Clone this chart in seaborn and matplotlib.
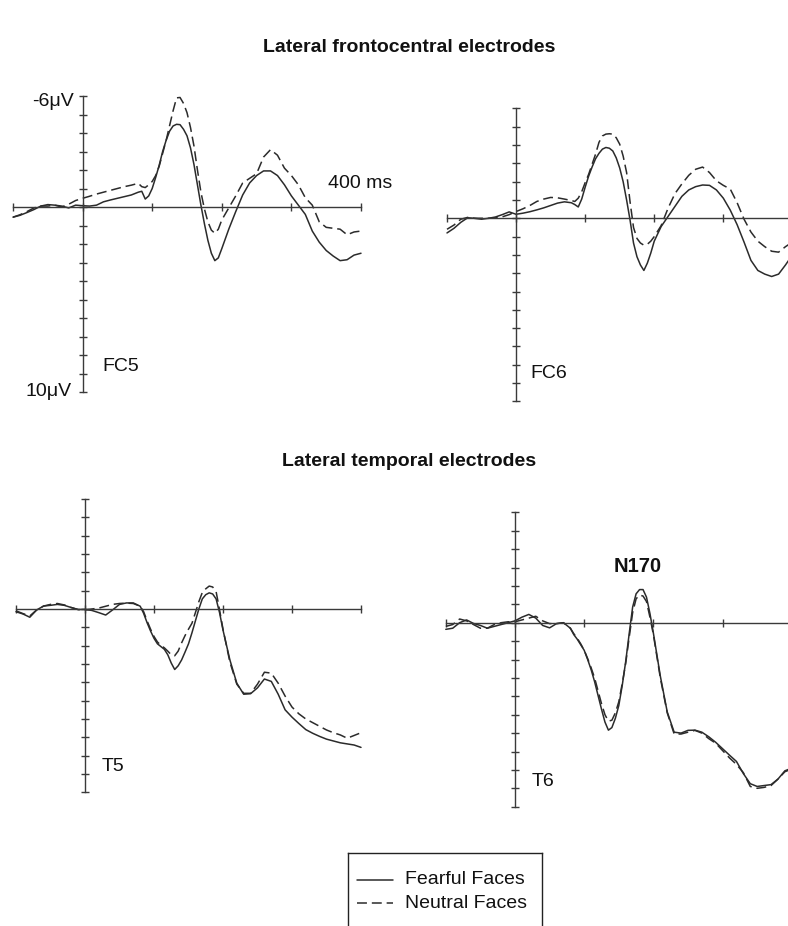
import numpy as np
import pandas as pd
import matplotlib
matplotlib.use("Agg")
import matplotlib.pyplot as plt
import seaborn as sns

# ---------------- data (µV; positive plotted downward) ----------------
# sample times (ms): 10 ms steps, 5 ms steps around the fast components
time_ms = list(range(-100, 81, 10)) + list(range(85, 201, 5)) + list(range(210, 401, 10))
conditions = ["Fearful Faces", "Neutral Faces"]

fc5_fearful = [0.55, 0.45, 0.3, 0.14, -0.05, -0.13, -0.1, -0.05, 0.05, -0.1,
               -0.07, -0.05, -0.1, -0.28, -0.38, -0.47, -0.56, -0.65, -0.8,
               -0.85, -0.43, -0.6, -1.0, -1.6, -2.25, -3.0, -3.6, -4.1, -4.38,
               -4.47, -4.45, -4.2, -3.85, -3.2, -2.3, -1.2, -0.1, 0.9, 1.8,
               2.5, 2.9, 2.75, 2.25,
               1.2, 0.25, -0.65, -1.3, -1.7, -1.95, -1.95, -1.7, -1.2, -0.6,
               -0.1, 0.4, 1.3, 1.9, 2.35, 2.65, 2.9, 2.85, 2.6, 2.5]
fc5_neutral = [0.55, 0.42, 0.25, 0.05, -0.05, -0.05, -0.1, 0.0, -0.15, -0.35,
               -0.47, -0.58, -0.7, -0.8, -0.9, -1.0, -1.1, -1.18, -1.28,
               -1.1, -1.05, -1.2, -1.38, -1.7, -2.2, -2.9, -3.6, -4.4, -5.2,
               -5.9, -5.92, -5.6, -5.1, -4.3, -3.3, -2.0, -0.8, 0.1, 0.8,
               1.25, 1.42, 1.2, 0.7,
               0.05, -0.6, -1.3, -1.55, -1.8, -2.7, -3.1, -2.8, -2.1, -1.7,
               -1.2, -0.5, -0.1, 0.8, 1.1, 1.15, 1.2, 1.5, 1.35, 1.3]

fc6_fearful = [0.8, 0.55, 0.22, -0.03, 0.0, 0.05, 0.0, -0.07, -0.2, -0.35,
               -0.22, -0.28, -0.36, -0.46, -0.57, -0.7, -0.83, -0.9, -0.85,
               -0.75, -0.62, -1.05, -1.7, -2.3, -2.8, -3.25, -3.55, -3.78, -3.87,
               -3.83, -3.68, -3.3, -2.75, -2.0, -1.0, 0.1, 1.35, 2.1, 2.55,
               2.85, 2.45, 1.9, 1.25,
               0.45, -0.1, -0.65, -1.2, -1.55, -1.73, -1.82, -1.8, -1.55, -1.1,
               -0.45, 0.35, 1.3, 2.3, 2.85, 3.05, 3.18, 3.05, 2.55, 2.0]
fc6_neutral = [0.6, 0.37, 0.05, -0.05, 0.0, 0.0, 0.0, -0.02, -0.08, -0.2,
               -0.37, -0.52, -0.7, -0.92, -1.05, -1.14, -1.12, -1.05, -0.97,
               -0.92, -1.1, -1.45, -1.95, -2.4, -2.95, -3.5, -4.15, -4.5, -4.6,
               -4.62, -4.6, -4.4, -4.05, -3.4, -2.5, -0.9, 0.5, 1.1, 1.35,
               1.47, 1.42, 1.25, 1.0,
               0.4, -0.55, -1.35, -1.88, -2.35, -2.68, -2.8, -2.5, -2.05, -1.8,
               -1.6, -0.85, 0.05, 0.75, 1.25, 1.55, 1.8, 1.85, 1.55, 1.3]

t5_fearful = [0.15, 0.27, 0.45, 0.05, -0.16, -0.2, -0.25, -0.2, -0.08, 0.03,
              0.02, 0.08, 0.2, 0.33, 0.05, -0.25, -0.33, -0.33, -0.15,
              0.24, 0.75, 1.2, 1.6, 1.9, 2.05, 2.2, 2.5, 2.95, 3.3,
              3.1, 2.78, 2.35, 1.9, 1.3, 0.65, 0.0, -0.55, -0.78, -0.88,
              -0.82, -0.55, 0.2, 1.15,
              2.78, 4.05, 4.65, 4.62, 4.3, 3.82, 3.95, 4.65, 5.5, 5.9,
              6.25, 6.58, 6.78, 6.95, 7.1, 7.2, 7.3, 7.36, 7.42, 7.55]
t5_neutral = [0.1, 0.25, 0.38, 0.05, -0.16, -0.25, -0.3, -0.22, -0.08, 0.03,
              0.05, 0.0, -0.05, -0.15, -0.25, -0.3, -0.32, -0.3, -0.15,
              0.15, 0.65, 1.1, 1.5, 1.8, 1.98, 2.12, 2.3, 2.5, 2.55,
              2.3, 1.85, 1.45, 1.1, 0.78, 0.2, -0.4, -0.9, -1.1, -1.25,
              -1.2, -0.95, 0.05, 1.1,
              2.9, 4.1, 4.6, 4.6, 4.1, 3.45, 3.5, 4.05, 4.75, 5.35,
              5.72, 6.0, 6.2, 6.4, 6.6, 6.75, 6.87, 7.05, 6.9, 6.75]

t6_fearful = [0.36, 0.3, 0.0, -0.15, 0.04, 0.15, 0.3, 0.2, 0.1, 0.0,
              -0.1, -0.3, -0.45, -0.25, 0.15, 0.28, 0.05, 0.0, 0.3,
              0.65, 0.9, 1.2, 1.5, 2.0, 2.55, 3.2, 3.95, 4.7, 5.4,
              5.84, 5.7, 5.2, 4.5, 3.4, 2.1, 0.6, -0.85, -1.57, -1.8,
              -1.8, -1.39, -0.5, 0.57,
              2.9, 4.85, 5.95, 6.0, 5.85, 5.84, 5.95, 6.2, 6.5, 6.85,
              7.2, 7.54, 8.2, 8.75, 8.9, 8.85, 8.8, 8.5, 8.05, 7.9]
t6_neutral = [0.2, 0.1, -0.2, -0.1, 0.1, 0.3, 0.3, 0.1, 0.0, -0.05,
              -0.05, -0.15, -0.25, -0.35, -0.1, 0.05, 0.05, 0.0, 0.3,
              0.6, 0.85, 1.15, 1.5, 1.95, 2.45, 3.0, 3.7, 4.4, 5.0,
              5.35, 5.3, 4.9, 4.3, 3.3, 2.2, 0.8, -0.55, -1.3, -1.5,
              -1.45, -1.15, -0.3, 0.65,
              3.0, 4.9, 6.05, 6.05, 5.95, 5.85, 6.0, 6.3, 6.55, 6.95,
              7.35, 7.7, 8.15, 8.9, 9.0, 8.95, 8.85, 8.5, 8.1, 7.95]

x_ticks = [-100, 0, 100, 200, 300, 400]
y_ticks = list(range(-6, 11))

# ---------------- style ----------------
sns.set_style("white")
plt.rcParams["font.family"] = ["Liberation Sans", "DejaVu Sans"]

W, H = 788, 926
fig = plt.figure(figsize=(W / 100, H / 100), dpi=100)

INK = "#2b2b2b"
AX = "#3a3a3a"


def rect(l, r, top, bot):
    return [l / W, 1 - bot / H, (r - l) / W, (bot - top) / H]


def panel(r, fearful, neutral):
    ax = fig.add_axes(r)
    df = pd.DataFrame({
        "time": time_ms * 2,
        "amp": fearful + neutral,
        "condition": [conditions[0]] * len(time_ms) + [conditions[1]] * len(time_ms),
    })
    sns.lineplot(data=df, x="time", y="amp", style="condition",
                 dashes={conditions[0]: "", conditions[1]: (6.5, 3.2)},
                 color=INK, linewidth=1.1, estimator=None, sort=False,
                 legend=False, ax=ax)
    for ln in ax.lines:
        ln.set_clip_on(False)
        ln.set_solid_joinstyle("round")
        ln.set_dash_joinstyle("round")
    ax.set_xlim(-100, 400)
    ax.set_ylim(10, -6)
    for s in ["top", "right"]:
        ax.spines[s].set_visible(False)
    ax.spines["left"].set_position(("data", 0))
    ax.spines["bottom"].set_position(("data", 0))
    ax.spines["left"].set_bounds(-6, 10)
    ax.spines["bottom"].set_bounds(-100, 400)
    for s in ["left", "bottom"]:
        ax.spines[s].set_color(AX)
        ax.spines[s].set_linewidth(1.0)
    ax.set_xticks(x_ticks)
    ax.set_yticks(y_ticks)
    ax.set_xticklabels([])
    ax.set_yticklabels([])
    ax.tick_params(axis="both", direction="inout", length=5.5, width=1.0,
                   color=AX, left=True, bottom=True)
    ax.set_xlabel("")
    ax.set_ylabel("")
    ax.patch.set_alpha(0)
    return ax


ax1 = panel(rect(13, 361, 96, 392), fc5_fearful, fc5_neutral)
ax2 = panel(rect(447, 792.4, 108.5, 401.3), fc6_fearful, fc6_neutral)
ax3 = panel(rect(16, 361, 499, 792.3), t5_fearful, t5_neutral)
ax4 = panel(rect(445.8, 791.8, 512.3, 806.7), t6_fearful, t6_neutral)


def ftext(x, y, s, **kw):
    kw.setdefault("fontsize", 14)
    kw.setdefault("color", "#111111")
    fig.text(x / W, 1 - y / H, s, **kw)


ftext(409, 47, "Lateral frontocentral electrodes", ha="center", va="center", fontweight="bold")
ftext(409, 462, "Lateral temporal electrodes", ha="center", va="center", fontweight="bold")
ftext(74, 101.5, "-6\u03bcV", ha="right", va="center")
ftext(72, 392, "10\u03bcV", ha="right", va="center")
ftext(328, 183.5, "400 ms", ha="left", va="center")
ftext(102, 366.5, "FC5", ha="left", va="center")
ftext(530, 373.5, "FC6", ha="left", va="center")
ftext(102, 766.5, "T5", ha="left", va="center")
ftext(531.5, 781.5, "T6", ha="left", va="center")
ftext(638, 566, "N170", ha="center", va="center", fontweight="bold", fontsize=14.5)

# ---------------- legend box ----------------
lx0, lx1, ly0, ly1 = 348, 542, 853, 940
lax = fig.add_axes(rect(lx0, lx1, ly0, ly1))
lax.set_xlim(lx0, lx1)
lax.set_ylim(ly1, ly0)
lax.set_xticks([])
lax.set_yticks([])
for s in lax.spines.values():
    s.set_color("#222222")
    s.set_linewidth(1.0)
legend_styles = ["-", (0, (6.5, 3.2))]
legend_y = [880, 903]
for lab, ls, yy in zip(conditions, legend_styles, legend_y):
    lax.plot([357, 393], [yy, yy], color=INK, linewidth=1.1, linestyle=ls)
    lax.text(405, yy, lab, fontsize=14, va="center", ha="left", color="#111111")

fig.savefig("out.png", dpi=100)
